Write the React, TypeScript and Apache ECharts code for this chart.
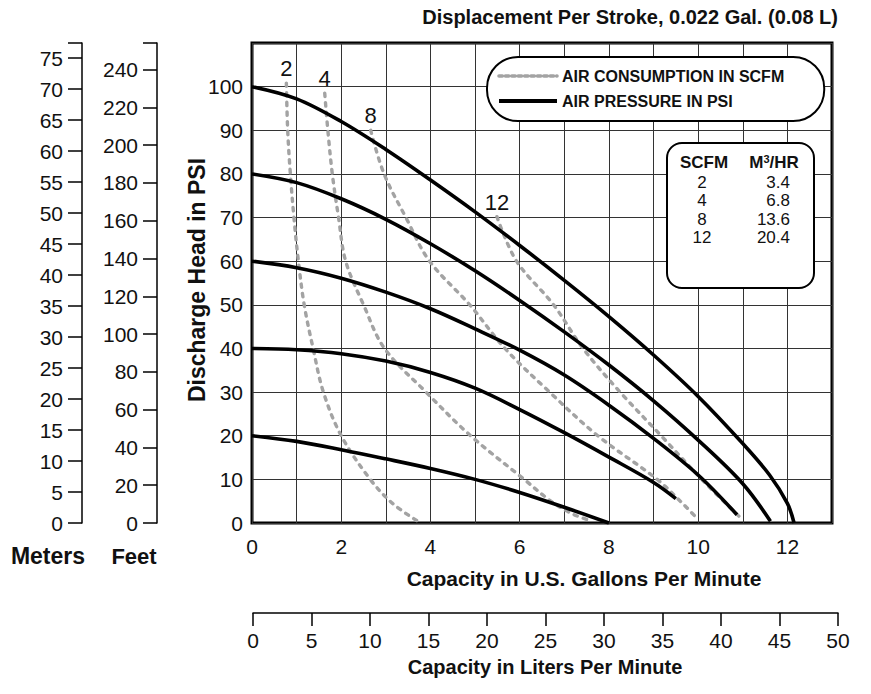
import React, { useEffect, useRef } from "react";
import * as echarts from "echarts";

// ---- data ----
const gpmTickValues = [0, 2, 4, 6, 8, 10, 12];
const psiTickValues = [0, 10, 20, 30, 40, 50, 60, 70, 80, 90, 100];
const meterTickValues = [0, 5, 10, 15, 20, 25, 30, 35, 40, 45, 50, 55, 60, 65, 70, 75];
const feetTickValues = [0, 20, 40, 60, 80, 100, 120, 140, 160, 180, 200, 220, 240];
const literTickValues = [0, 5, 10, 15, 20, 25, 30, 35, 40, 45, 50];

// air pressure curves [gpm, psi]
const psi100 = [[0, 100], [1, 97.2], [2, 92], [3, 85.6], [4, 78.6], [5, 71.3], [6, 63.6], [7, 55.6], [8, 47.3], [9, 38.5], [10, 29], [11, 18.2], [11.6, 11], [12, 4.5], [12.15, 0]];
const psi80 = [[0, 80], [1, 78], [2, 74.3], [3, 69.6], [4, 64], [5, 57.8], [6, 51], [7, 43.8], [8, 36.2], [9, 28], [10, 19], [11, 9], [11.62, 0.4]];
const psi60 = [[0, 60], [1, 58.5], [2, 56.1], [3, 52.9], [4, 49.1], [5, 44.5], [6, 39.6], [7, 33.9], [8, 27], [9, 19.4], [10, 11], [10.87, 1.9]];
const psi40 = [[0, 40], [1, 39.7], [2, 38.8], [3, 37.1], [4, 34.5], [5, 30.9], [6, 26], [7, 20.7], [8, 15.1], [9, 9.3], [9.5, 5.6]];
const psi20 = [[0, 20], [1, 18.7], [2, 16.8], [3, 14.7], [4, 12.5], [5, 10], [6, 7], [7, 3.6], [8, 0]];

// air consumption curves [gpm, psi]
const scfm2 = [[0.77, 100.8], [0.8, 90], [0.86, 80], [0.94, 70], [1.04, 60], [1.17, 50], [1.37, 40], [1.6, 30], [2.0, 20], [2.65, 10], [3.15, 4.5], [3.7, 0.5]];
const scfm4 = [[1.63, 98.5], [1.7, 90], [1.8, 80], [1.94, 70], [2.1, 60], [2.5, 50], [2.97, 40], [3.9, 30], [4.9, 20], [6.1, 10], [6.7, 5], [7.2, 2], [7.6, 0.5]];
const scfm8 = [[2.66, 90], [2.96, 80], [3.45, 70], [3.98, 60], [4.88, 50], [5.67, 40], [6.67, 30], [7.75, 20], [9.08, 10], [9.6, 5], [10.0, 0.8]];
const scfm12 = [[5.49, 70.2], [5.93, 60], [6.76, 50], [7.42, 40], [8.25, 30], [9.17, 20], [10.08, 10], [10.96, 1.1]];

const scfmLabels = ["2", "4", "8", "12"];
const tableScfm = ["2", "4", "8", "12"];
const tableM3hr = ["3.4", "6.8", "13.6", "20.4"];

const TITLE = "Displacement Per Stroke, 0.022 Gal. (0.08 L)";
const PSI_NAME = "AIR PRESSURE IN PSI";
const SCFM_NAME = "AIR CONSUMPTION IN SCFM";

const FONT = '"Liberation Sans Narrow", "Arial Narrow", "Liberation Sans", Arial, sans-serif';
const PSI_MAX = 110;
const TRANSPARENT = "rgba(0,0,0,0)";

export default function App() {
  const ref = useRef<HTMLDivElement>(null);
  useEffect(() => {
    if (!ref.current) return;
    const chart = echarts.init(ref.current, undefined, { renderer: "svg" });

    const labelStyle = { fontFamily: FONT, fontSize: 21, color: "#111" };
    const pressureSeries = [psi100, psi80, psi60, psi40, psi20].map((d) => ({
      type: "line",
      name: PSI_NAME,
      data: d,
      smooth: 0.35,
      symbol: "none",
      z: 4,
      lineStyle: { color: "#000", width: 3.6 },
      itemStyle: { color: "#000" },
    }));
    const scfmSeries = [scfm2, scfm4, scfm8, scfm12].map((d, i) => ({
      type: "line",
      name: SCFM_NAME,
      data: d.map((p, j) =>
        j === 0
          ? {
              value: p,
              label: {
                show: true,
                position: "top",
                distance: 3,
                formatter: scfmLabels[i],
                fontFamily: FONT,
                fontSize: 22,
                color: "#111",
              },
            }
          : { value: p }
      ),
      smooth: 0.35,
      symbol: "circle",
      symbolSize: 1,
      showSymbol: true,
      z: 3,
      lineStyle: { color: "#a3a3a3", width: 3.4, type: [3.4, 6.2], cap: "round" },
      itemStyle: { color: TRANSPARENT, borderWidth: 0 },
    }));

    const TZ = 200;
    const tableRows = tableScfm
      .map((s, i) => [
        {
          type: "text",
          x: 35,
          y: 39 + i * 18.5,
          z: TZ + 1,
          style: { text: s, font: `17px ${FONT}`, fill: "#111", textAlign: "center", textVerticalAlign: "middle" },
        },
        {
          type: "text",
          x: 123,
          y: 39 + i * 18.5,
          z: TZ + 1,
          style: { text: tableM3hr[i], font: `17px ${FONT}`, fill: "#111", textAlign: "right", textVerticalAlign: "middle" },
        },
      ])
      .flat();

    chart.setOption({
      animation: false,
      backgroundColor: "#fff",
      grid: [
        { left: 252, top: 43, width: 580, height: 480, show: true, borderColor: "#000", borderWidth: 3, backgroundColor: "transparent" },
        { left: 82, top: 43, width: 1, height: 480 },
        { left: 157, top: 43, width: 1, height: 480 },
        { left: 253, top: 613, width: 585, height: 1 },
      ],
      xAxis: [
        {
          type: "value",
          gridIndex: 0,
          min: 0,
          max: 13,
          interval: 1,
          axisLine: { show: false },
          axisTick: { show: false },
          splitLine: { show: true, lineStyle: { color: "#333", width: 1 } },
          axisLabel: { ...labelStyle, margin: 13, formatter: (v: number) => (gpmTickValues.includes(v) ? String(v) : "") },
        },
        { type: "value", gridIndex: 1, show: false, min: 0, max: 1 },
        { type: "value", gridIndex: 2, show: false, min: 0, max: 1 },
        {
          type: "value",
          gridIndex: 3,
          position: "top",
          min: 0,
          max: 50,
          interval: 5,
          axisLine: { show: true, onZero: false, lineStyle: { color: "#000", width: 1.5 } },
          axisTick: { show: true, inside: true, length: 13, lineStyle: { color: "#000", width: 1.5 } },
          splitLine: { show: false },
          axisLabel: { ...labelStyle, inside: true, margin: 17, formatter: (v: number) => (literTickValues.includes(v) ? String(v) : "") },
        },
      ],
      yAxis: [
        {
          type: "value",
          gridIndex: 0,
          min: 0,
          max: PSI_MAX,
          interval: 10,
          axisLine: { show: false },
          axisTick: { show: false },
          splitLine: { show: true, lineStyle: { color: "#333", width: 1 } },
          axisLabel: { ...labelStyle, margin: 9, formatter: (v: number) => (psiTickValues.includes(v) ? String(v) : "") },
        },
        {
          type: "value",
          gridIndex: 1,
          position: "left",
          min: 0,
          max: PSI_MAX * 0.7041,
          interval: 5,
          axisLine: { show: true, lineStyle: { color: "#000", width: 1.5 } },
          axisTick: { show: true, length: 14, lineStyle: { color: "#000", width: 1.5 } },
          splitLine: { show: false },
          axisLabel: { ...labelStyle, margin: 19, formatter: (v: number) => (meterTickValues.includes(v) ? String(v) : "") },
        },
        {
          type: "value",
          gridIndex: 2,
          position: "left",
          min: 0,
          max: PSI_MAX * 2.31,
          interval: 20,
          axisLine: { show: true, lineStyle: { color: "#000", width: 1.5 } },
          axisTick: { show: true, length: 14, lineStyle: { color: "#000", width: 1.5 } },
          splitLine: { show: false },
          axisLabel: { ...labelStyle, margin: 19, formatter: (v: number) => (feetTickValues.includes(v) ? String(v) : "") },
        },
        { type: "value", gridIndex: 3, show: false, min: 0, max: 1 },
      ],
      legend: {
        left: 487,
        top: 57,
        orient: "vertical",
        data: [
          { name: SCFM_NAME, lineStyle: { color: "#a3a3a3", width: 3.6, type: [3.4, 3], cap: "round" } },
          { name: PSI_NAME, lineStyle: { color: "#000", width: 4 } },
        ],
        itemWidth: 58,
        itemHeight: 14,
        itemGap: 9,
        itemStyle: { opacity: 0, color: TRANSPARENT, borderWidth: 0 },
        padding: [11, 40, 12, 10],
        backgroundColor: "#fff",
        borderColor: "#000",
        borderWidth: 2,
        borderRadius: 31,
        selectedMode: false,
        textStyle: { fontFamily: FONT, fontSize: 16, fontWeight: "bold", color: "#111" },
        z: 10,
      },
      graphic: [
        {
          type: "text",
          right: 33,
          top: 7,
          z: 100,
          style: { text: TITLE, font: `bold 20px ${FONT}`, fill: "#111" },
        },
        {
          type: "text",
          x: 584,
          y: 578,
          z: 100,
          style: { text: "Capacity in U.S. Gallons Per Minute", font: `bold 21px ${FONT}`, fill: "#111", textAlign: "center", textVerticalAlign: "middle" },
        },
        {
          type: "text",
          x: 197,
          y: 280,
          rotation: Math.PI / 2,
          z: 100,
          style: { text: "Discharge Head in PSI", font: `bold 23px ${FONT}`, fill: "#111", textAlign: "center", textVerticalAlign: "middle" },
        },
        {
          type: "text",
          x: 48,
          y: 556,
          z: 100,
          style: { text: "Meters", font: `bold 23px ${FONT}`, fill: "#111", textAlign: "center", textVerticalAlign: "middle" },
        },
        {
          type: "text",
          x: 134,
          y: 556,
          z: 100,
          style: { text: "Feet", font: `bold 22px ${FONT}`, fill: "#111", textAlign: "center", textVerticalAlign: "middle" },
        },
        {
          type: "text",
          x: 545,
          y: 667,
          z: 100,
          style: { text: "Capacity in Liters Per Minute", font: `bold 20px ${FONT}`, fill: "#111", textAlign: "center", textVerticalAlign: "middle" },
        },
        {
          type: "group",
          left: 666,
          top: 142,
          z: TZ,
          children: [
            {
              type: "rect",
              z: TZ,
              shape: { x: 0, y: 0, width: 147, height: 145, r: 15 },
              style: { fill: "#fff", stroke: "#000", lineWidth: 2 },
            },
            {
              type: "text",
              x: 37,
              y: 19,
              z: TZ + 1,
              style: { text: "SCFM", font: `bold 17px ${FONT}`, fill: "#111", textAlign: "center", textVerticalAlign: "middle" },
            },
            {
              type: "text",
              x: 107,
              y: 19,
              z: TZ + 1,
              style: {
                text: "{a|M}{s|3}{a|/HR}",
                textAlign: "center",
                textVerticalAlign: "middle",
                rich: {
                  a: { font: `bold 17px ${FONT}`, fill: "#111", lineHeight: 18, verticalAlign: "bottom" },
                  s: { font: `bold 11px ${FONT}`, fill: "#111", lineHeight: 18, verticalAlign: "top" },
                },
              },
            },
            ...tableRows,
          ],
        },
      ],
      series: [...scfmSeries, ...pressureSeries],
    });

    return () => chart.dispose();
  }, []);

  return <div ref={ref} style={{ position: "fixed", left: 0, top: 0, width: 871, height: 694 }} />;
}
